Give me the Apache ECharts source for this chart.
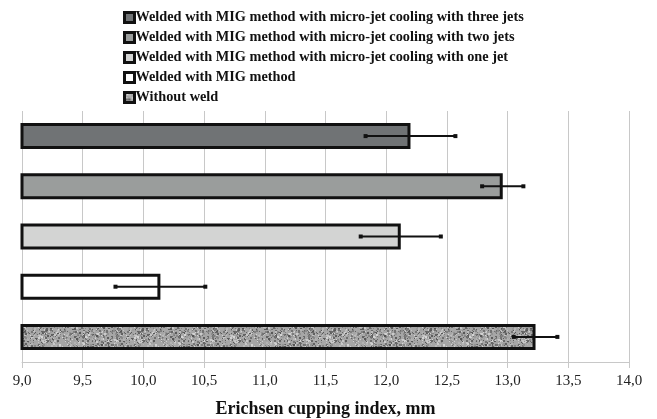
<!DOCTYPE html>
<html>
<head>
<meta charset="utf-8">
<script src="https://cdn.jsdelivr.net/npm/echarts@6/dist/echarts.min.js"></script>
<style>html,body{margin:0;padding:0;background:#fff;}#c{width:657px;height:419px;}</style>
</head>
<body>
<div id="c"></div>
<script>
// Categories bottom-to-top on the category axis
var categories = [
  'Without weld',
  'Welded with MIG method',
  'Welded with MIG method with micro-jet cooling with one jet',
  'Welded with MIG method with micro-jet cooling with two jets',
  'Welded with MIG method with micro-jet cooling with three jets'
];
var values = [13.23, 10.14, 12.12, 12.96, 12.20];
var errors = [0.18, 0.37, 0.33, 0.17, 0.37];
var legendOrder = [
  'Welded with MIG method with micro-jet cooling with three jets',
  'Welded with MIG method with micro-jet cooling with two jets',
  'Welded with MIG method with micro-jet cooling with one jet',
  'Welded with MIG method',
  'Without weld'
];
var xTicks = ['9,0','9,5','10,0','10,5','11,0','11,5','12,0','12,5','13,0','13,5','14,0'];

// granite-like texture (deterministic)
function makeTexture() {
  var cv = document.createElement('canvas');
  cv.width = 96; cv.height = 96;
  var ctx = cv.getContext('2d');
  ctx.fillStyle = '#a6a6a6';
  ctx.fillRect(0, 0, 96, 96);
  var s = 12345;
  function rnd() { s = (s * 1103515245 + 12345) % 2147483648; return s / 2147483648; }
  for (var i = 0; i < 3200; i++) {
    var x = Math.floor(rnd() * 96), y = Math.floor(rnd() * 96);
    var g = Math.floor(85 + rnd() * 130);
    ctx.fillStyle = 'rgb(' + g + ',' + g + ',' + g + ')';
    var sz = rnd() < 0.6 ? 1 : 2;
    ctx.fillRect(x, y, sz, sz);
  }
  return cv;
}
var texture = makeTexture();
var fills = ['#a6a6a6', '#ffffff', '#d3d4d3', '#9a9d9c', '#707375'];

var series = categories.map(function (name, i) {
  var d = categories.map(function (c, j) { return j === i ? values[j] : '-'; });
  return {
    name: name,
    type: 'bar',
    data: d,
    barWidth: 26,
    barGap: '-100%',
    itemStyle: {
      color: i === 0 ? { image: texture, repeat: 'repeat' } : fills[i],
      borderColor: '#111',
      borderWidth: 3
    },
    z: 3
  };
});

series.push({
  name: 'err',
  type: 'custom',
  z: 10,
  data: categories.map(function (c, i) { return [values[i], i, errors[i]]; }),
  encode: { x: 0, y: 1 },
  renderItem: function (params, api) {
    var v = api.value(0), cat = api.value(1), e = api.value(2);
    var p1 = api.coord([v - e, cat]);
    var p2 = api.coord([v + e, cat]);
    var st = { stroke: '#111', lineWidth: 2 };
    return {
      type: 'group',
      children: [
        { type: 'line', shape: { x1: p1[0], y1: p1[1], x2: p2[0], y2: p2[1] }, style: st },
        { type: 'rect', shape: { x: p1[0] - 2, y: p1[1] - 2, width: 4, height: 4 }, style: { fill: '#111' } },
        { type: 'rect', shape: { x: p2[0] - 2, y: p2[1] - 2, width: 4, height: 4 }, style: { fill: '#111' } }
      ]
    };
  }
});

var chart = echarts.init(document.getElementById('c'), null, { renderer: 'canvas' });
chart.setOption({
  backgroundColor: '#fff',
  animation: false,
  textStyle: { fontFamily: 'Liberation Serif' },
  legend: {
    data: legendOrder,
    orient: 'vertical',
    left: 118,
    top: 5,
    padding: [5, 5, 5, 5],
    itemWidth: 10,
    itemHeight: 10,
    itemGap: 5,
    icon: 'rect',
    itemStyle: { borderWidth: 3, borderColor: '#111' },
    textStyle: { fontFamily: 'Liberation Serif', fontWeight: 'bold', fontSize: 14.3, color: '#111', padding: [0, 0, 0, -4], lineHeight: 15 }
  },
  grid: { left: 22, right: 28, top: 111, bottom: 57, containLabel: false, outerBoundsMode: 'none' },
  xAxis: {
    type: 'value',
    min: 9, max: 14, interval: 0.5,
    axisLine: { show: true, lineStyle: { color: '#c8c8c8', width: 1 } },
    axisTick: { show: true, length: 6, lineStyle: { color: '#c8c8c8' } },
    splitLine: { show: true, lineStyle: { color: '#c8c8c8', width: 1 } },
    axisLabel: {
      color: '#222', fontSize: 15, fontFamily: 'Liberation Serif', margin: 12,
      formatter: function (v) { return xTicks[Math.round((v - 9) / 0.5)]; }
    },
    name: 'Erichsen cupping index, mm',
    nameLocation: 'middle',
    nameGap: 38,
    nameTextStyle: { fontFamily: 'Liberation Serif', fontWeight: 'bold', fontSize: 18, color: '#111' }
  },
  yAxis: {
    type: 'category',
    data: categories,
    axisLine: { show: false },
    axisTick: { show: false },
    axisLabel: { show: false },
    splitLine: { show: false }
  },
  series: series
});
</script>
</body>
</html>
